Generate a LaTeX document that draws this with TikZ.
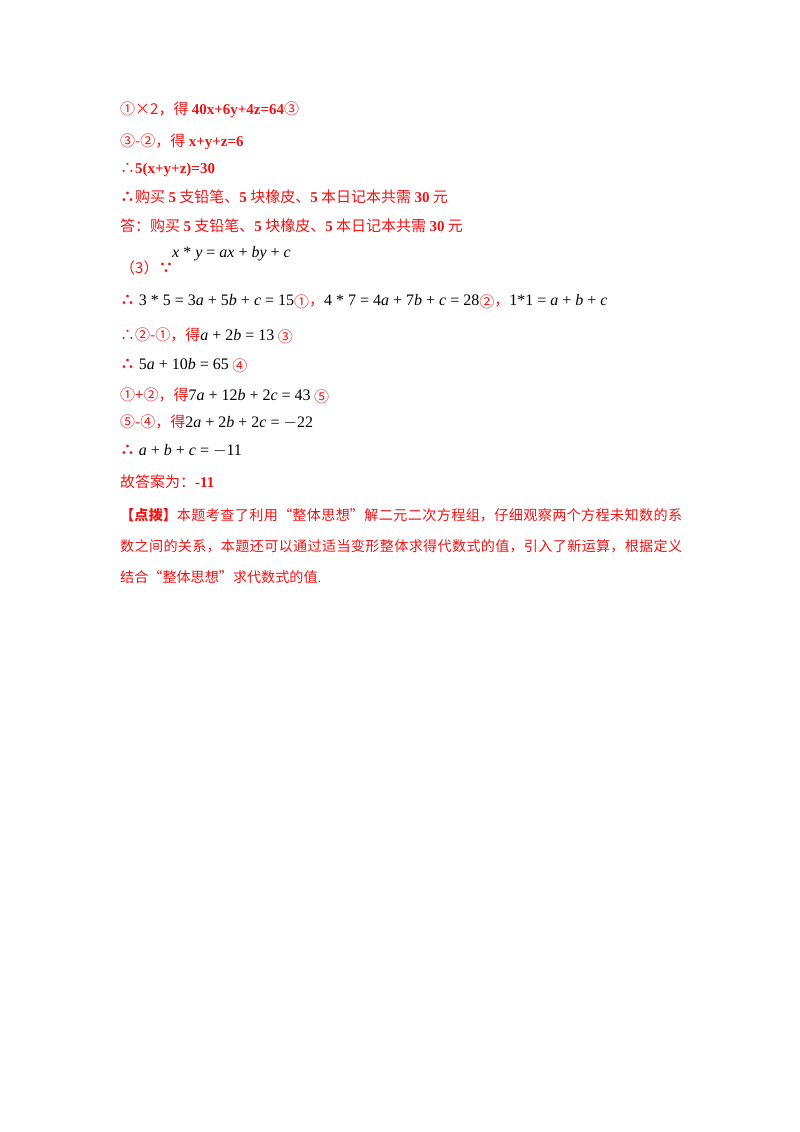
\documentclass[tikz,border=0pt]{standalone}
\usepackage{fontspec}
\setmainfont{Liberation Serif}
\newfontfamily\cjk{Noto Sans CJK SC}
\XeTeXlinebreaklocale "zh"
\XeTeXlinebreakskip=0pt plus 2pt
\definecolor{rd}{RGB}{240,20,20}
\newcommand{\m}[1]{{\color{black}\fontsize{16}{18}\selectfont #1}}
\newcommand{\cj}[1]{{\cjk #1}}
\begin{document}
\begin{tikzpicture}[x=1pt,y=1pt,
  ln/.style={anchor=west,inner sep=0pt,text=rd,font=\fontsize{15}{18}\selectfont}]
\useasboundingbox (0,0) rectangle (800,-1132);
\fill[white] (0,0) rectangle (800,-1132);
\node[ln] (l1) at (120,-110) {\cj{①×2，得 }\textbf{40x+6y+4z=64}\cj{③}};
\node[ln] (l2) at (120,-142) {\cj{③-②，得 }\textbf{x+y+z=6}};
\node[ln] (l3) at (120,-170) {\cj{∴}\textbf{5(x+y+z)=30}};
\node[ln] (l4) at (120,-197) {\cj{\textbf{∴}购买 }\textbf{5}\cj{ 支铅笔、}\textbf{5}\cj{ 块橡皮、}\textbf{5}\cj{ 本日记本共需 }\textbf{30}\cj{ 元}};
\node[ln] (l5) at (120,-226) {\cj{答：购买 }\textbf{5}\cj{ 支铅笔、}\textbf{5}\cj{ 块橡皮、}\textbf{5}\cj{ 本日记本共需 }\textbf{30}\cj{ 元}};
\node[ln] (l6) at (120,-268) {\cj{（3）\textbf{∵}}};
\node[ln] (l6m) at (172,-254) {\m{\textit{x} * \textit{y} = \textit{ax} + \textit{by} + \textit{c}}};
\node[ln] (l7) at (120,-302) {\cj{\textbf{∴}} \m{3 * 5 = 3\textit{a} + 5\textit{b} + \textit{c} = 15}\cj{\raisebox{-2pt}{①}，}\m{4 * 7 = 4\textit{a} + 7\textit{b} + \textit{c} = 28}\cj{\raisebox{-2pt}{②}，}\m{1*1 = \textit{a} + \textit{b} + \textit{c}}};
\node[ln] (l8) at (120,-336) {\cj{∴②-①，得}\m{\textit{a} + 2\textit{b} = 13}\cj{ \raisebox{-2pt}{③}}};
\node[ln] (l9) at (120,-366) {\cj{\textbf{∴}} \m{5\textit{a} + 10\textit{b} = 65}\cj{ \raisebox{-2pt}{④}}};
\node[ln] (l10) at (120,-396) {\cj{①+②，得}\m{7\textit{a} + 12\textit{b} + 2\textit{c} = 43}\cj{ \raisebox{-2pt}{⑤}}};
\node[ln] (l11) at (120,-422) {\cj{⑤-④，得}\m{2\textit{a} + 2\textit{b} + 2\textit{c} = $-$22}};
\node[ln] (l12) at (120,-451) {\cj{\textbf{∴}} \m{\textit{a} + \textit{b} + \textit{c} = $-$11}};
\node[ln] (l13) at (120,-482) {\cj{故答案为：}\textbf{-11}};
\node[ln,anchor=north west,text width=562pt,align=justify,font=\fontsize{14.1}{31}\selectfont] (p) at (120,-508)
 {\cjk\textbf{【点拨】}本题考查了利用“整体思想”解二元二次方程组，仔细观察两个方程未知数的系\linebreak 数之间的关系，本题还可以通过适当变形整体求得代数式的值，引入了新运算，根据定义\linebreak 结合“整体思想”求代数式的值\rmfamily .};
\end{tikzpicture}
\end{document}
